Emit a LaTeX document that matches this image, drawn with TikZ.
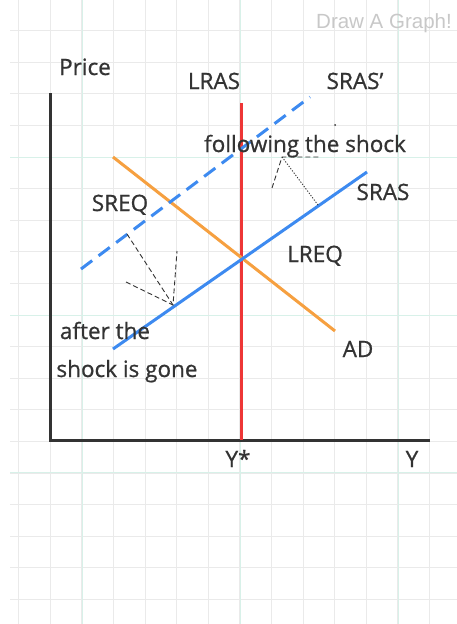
\documentclass[tikz,border=0pt]{standalone}
\usepackage{fontspec}
\setmainfont[FakeBold=0.8]{Open Sans}
\newfontfamily\logofont{Liberation Sans}
\definecolor{gridgray}{RGB}{234,234,234}
\definecolor{gridgreen}{RGB}{216,241,233}
\definecolor{inkgray}{RGB}{51,51,51}
\definecolor{srasblue}{RGB}{61,138,240}
\definecolor{adorange}{RGB}{246,160,64}
\definecolor{lrasred}{RGB}{238,54,54}
\definecolor{logogray}{RGB}{200,200,200}
\tikzset{
  lbl/.style={text=inkgray,font=\fontsize{22.5}{26}\selectfont,inner sep=0pt,anchor=base},
  curve/.style={line width=3pt},
  note/.style={inkgray,line width=0.9pt,dash pattern=on 5pt off 3pt}
}
\begin{document}
\begin{tikzpicture}[x=1pt,y=-1pt]
\useasboundingbox (0,0) rectangle (457,624);
\fill[white] (0,0) rectangle (457,624);

\foreach \x in {18.6,50.2,...,450} \draw[gridgray,line width=0.8pt] (\x,0) -- (\x,624);
\foreach \y in {30.6,62.2,...,624} \draw[gridgray,line width=0.8pt] (10,\y) -- (457,\y);
\foreach \x in {82,240,398} \draw[gridgreen,line width=0.8pt] (\x,0) -- (\x,624);
\foreach \y in {157,315,472} \draw[gridgreen,line width=0.8pt] (10,\y) -- (457,\y);

\node[text=logogray,font=\logofont\fontsize{20.5}{24}\selectfont,inner sep=0pt,anchor=base] (logo) at (384,28) {Draw A Graph!};

\coordinate (ytop) at (50,93);
\coordinate (origin) at (50,440);
\coordinate (xend) at (430,440);
\draw[inkgray,line width=3pt] (ytop) -- (origin) -- (xend);

\coordinate (lrastop) at (241,103);
\coordinate (lrasbot) at (241,440);
\draw[curve,lrasred] (lrastop) -- (lrasbot);

\coordinate (adtop) at (113,157);
\coordinate (adbot) at (335,331);
\draw[curve,adorange] (adtop) -- (adbot);

\coordinate (srasbot) at (113,349);
\coordinate (srastop) at (367,172);
\draw[curve,srasblue] (srasbot) -- (srastop);

\coordinate (srasdbot) at (81,269);
\coordinate (srasdtop) at (310,97);
\draw[curve,srasblue,dash pattern=on 14pt off 8pt] (srasdbot) -- (srasdtop);

\node[lbl] (price) at (85,75) {Price};
\node[lbl] (lras) at (214,89) {LRAS};
\node[lbl] (srasd) at (355,89) {SRAS’};
\node[lbl] (follow) at (305,152) {following the shock};
\node[lbl] (sreq) at (120,211) {SREQ};
\node[lbl] (sras) at (383,200) {SRAS};
\node[lbl] (lreq) at (315,262) {LREQ};
\node[lbl] (after) at (105,339) {after the};
\node[lbl] (gone) at (127,377) {shock is gone};
\node[lbl] (ad) at (358,357) {AD};
\node[lbl] (ystar) at (238,467) {Y*};
\node[lbl] (yy) at (412,467) {Y};

\coordinate (fs) at (282,157);
\coordinate (fsa) at (272,188);
\coordinate (fsb) at (320,157);
\coordinate (fsend) at (318,205);
\draw[note,dash pattern=on 1.2pt off 1.6pt] (fsend) -- (fs);
\draw[note] (fsa) -- (fs) -- (fsb);

\coordinate (sq) at (173,305);
\coordinate (sqa) at (126,282);
\coordinate (sqb) at (177,251);
\coordinate (sqs) at (127,234);
\draw[note] (sqs) -- (sq);
\draw[note] (sqa) -- (sq) -- (sqb);

\fill[inkgray] (335,125) circle (1pt);
\end{tikzpicture}
\end{document}
